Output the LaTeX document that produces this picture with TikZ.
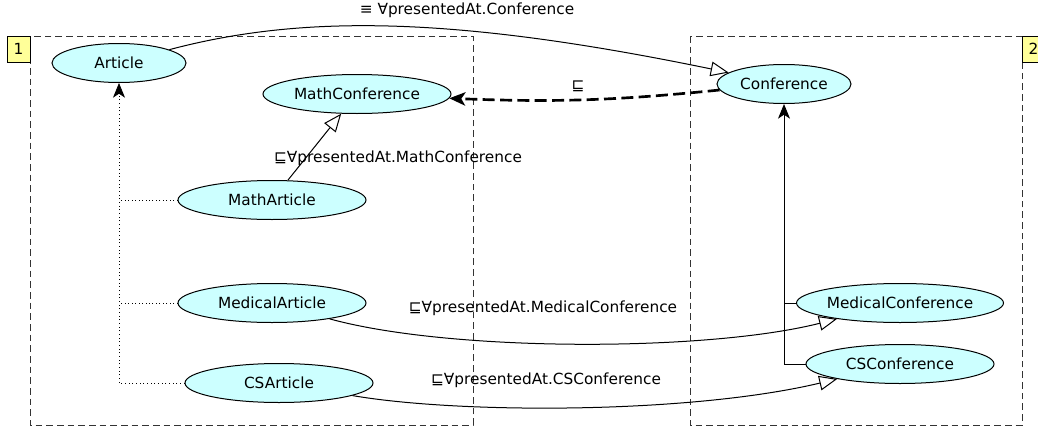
\documentclass[tikz,border=0pt]{standalone}
\usepackage{fontspec}
\setmainfont{DejaVu Sans}
\usetikzlibrary{shapes.geometric,arrows.meta}
\definecolor{concept}{HTML}{CCFFFF}
\definecolor{tagyellow}{HTML}{FFFF99}

\begin{document}
\begin{tikzpicture}[x=0.75pt, y=-0.75pt,
    font=\fontsize{11.5}{14}\selectfont,
    cls/.style={ellipse, draw, fill=concept, line width=0.75pt, inner sep=0pt, minimum height=29.25pt},
    clsbig/.style={cls, minimum width=141pt},
    clssmall/.style={cls, minimum width=100.5pt},
    grp/.style={draw=black!80, dash pattern=on 5pt off 3pt, line width=0.7pt},
    grptag/.style={draw, fill=tagyellow, line width=0.7pt, minimum width=17.25pt, minimum height=19.5pt, inner sep=0pt},
    restrict/.style={line width=0.75pt, -{Triangle[open, length=13.5pt, width=11pt, fill=white]}},
    isa/.style={line width=0.75pt, -{Stealth[length=11pt, width=9pt, inset=3pt]}},
    dashsub/.style={line width=2pt, dash pattern=on 9pt off 4pt, -{Stealth[length=12pt, width=10pt, inset=3pt]}}]
            \useasboundingbox (0,0) rectangle (1038,432);
            \draw [grp] (30,36) rectangle (473,425);          %group 1
            \node [grptag] (t1) at (18.5,49) {1};
            \draw [grp] (690,36) rectangle (1022,425);        %group 2
            \node [grptag] (t2) at (1033.5,49) {2};
            \node [clssmall] (art) at (119,63) {Article};
            \node [clsbig] (mconf) at (357,94) {MathConference};
            \node [clsbig] (mart) at (272,200) {MathArticle};
            \node [clsbig] (medart) at (272,303) {MedicalArticle};
            \node [clsbig] (csart) at (279,383) {CSArticle};
            \node [clssmall] (conf) at (784,84) {Conference};
            \node [clsbig] (medconf) at (900,303) {MedicalConference};
            \node [clsbig] (csconf) at (900,364) {CSConference};
            \draw [restrict] (art) .. controls (300,15) and (450,15) .. (conf);   %restrictions
            \draw [restrict] (mart) -- (mconf);
            \draw [restrict] (medart) .. controls (450,352) and (706,352) .. (medconf);
            \draw [restrict] (csart) .. controls (460,414) and (690,414) .. (csconf);
            \draw [dashsub] (conf) to[bend left=4] (mconf);   %subsumption
            \draw [isa, dotted, line width=0.6pt] (csart.west) -| (art.south);   %tree 1
            \draw [dotted, line width=0.6pt] (medart.west) -- (medart.west -| art.south);
            \draw [dotted, line width=0.6pt] (mart.west) -- (mart.west -| art.south);
            \draw [isa] (csconf.west) -| (conf.south);         %tree 2
            \draw [line width=0.75pt] (medconf.west) -- (medconf.west -| conf.south);
            \node (lconf) at (467,10) {≡ ∀presentedAt.Conference};
            \node (lsub) at (578,86) {⊑};
            \node (lmath) at (398,158) {⊑∀presentedAt.MathConference};
            \node (lmed) at (543,308) {⊑∀presentedAt.MedicalConference};
            \node (lcs) at (546,380) {⊑∀presentedAt.CSConference};
        \end{tikzpicture}
\end{document}
